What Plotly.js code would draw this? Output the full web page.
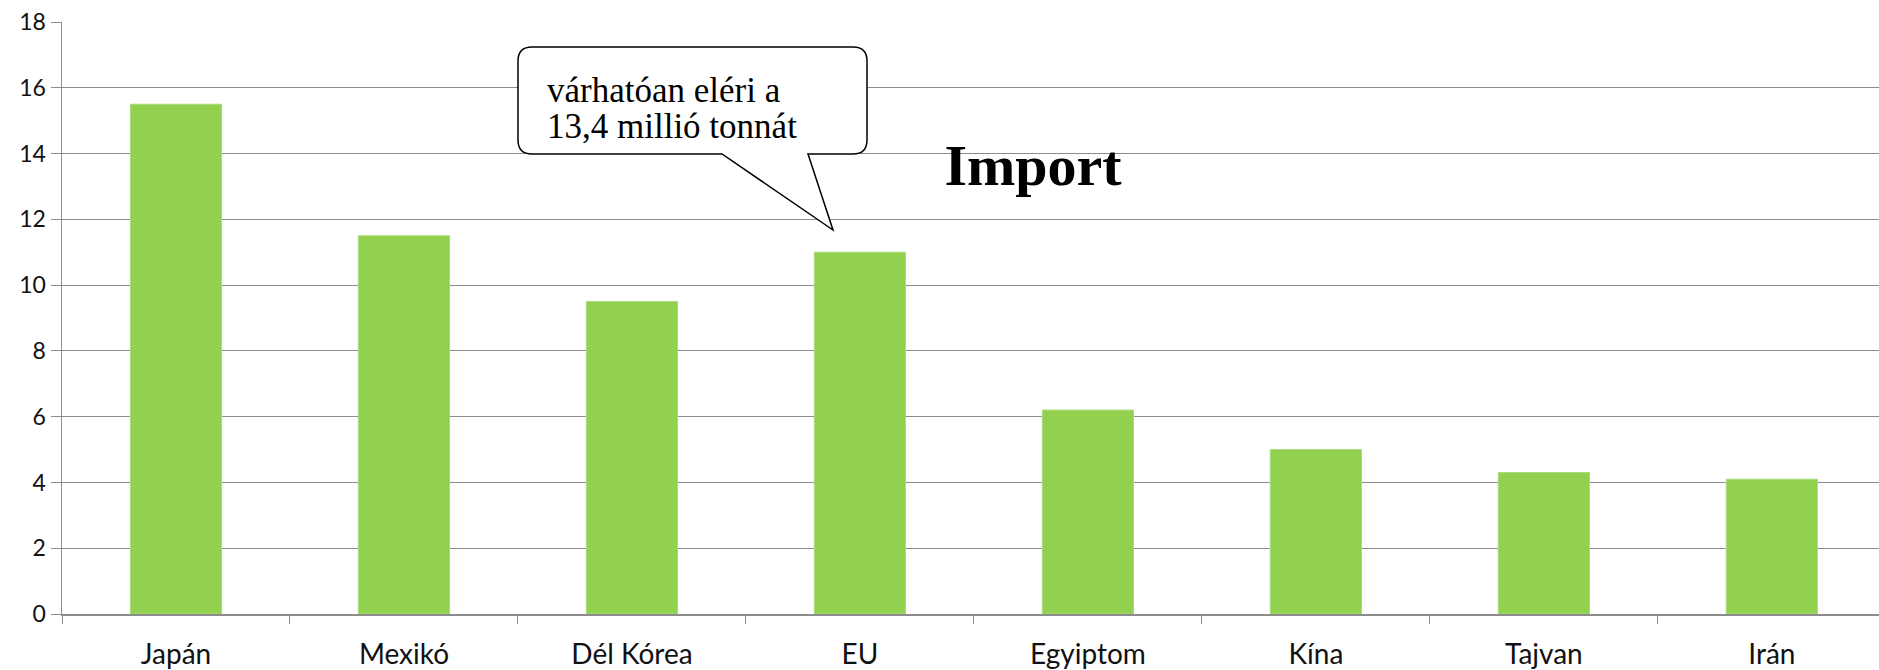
<!DOCTYPE html>
<html>
<head>
<meta charset="utf-8">
<script src="https://cdn.plot.ly/plotly-3.0.1.min.js"></script>
<style>html,body{margin:0;padding:0;background:#fff;}#chart{width:1879px;height:670px;}</style>
</head>
<body>
<div id="chart"></div>
<script>
var countries = ["Japán", "Mexikó", "Dél Kórea", "EU", "Egyiptom", "Kína", "Tajvan", "Irán"];
var importValues = [15.5, 11.5, 9.5, 11.0, 6.2, 5.0, 4.3, 4.1];
var yTicks = [0, 2, 4, 6, 8, 10, 12, 14, 16, 18];
var chartTitle = "Import";
var calloutLines = ["várhatóan eléri a", "13,4 millió tonnát"];

var W = 1879, H = 670;
var M = {l: 62, r: 0, t: 22, b: 56};
var pw = W - M.l - M.r, ph = H - M.t - M.b;
function px(X) { return (X - M.l) / pw; }
function py(Y) { return (H - M.b - Y) / ph; }

// callout bubble outline (pixel layout -> paper coords)
var L = 518, R = 867, T = 47, B = 154, r = 14;
var pts = function (x, y) { return px(x).toFixed(5) + "," + py(y).toFixed(5); };
var path = "M" + pts(L + r, T) +
  " L" + pts(R - r, T) + " Q" + pts(R, T) + " " + pts(R, T + r) +
  " L" + pts(R, B - r) + " Q" + pts(R, B) + " " + pts(R - r, B) +
  " L" + pts(808, B) + " L" + pts(833, 230) + " L" + pts(722, B) +
  " L" + pts(L + r, B) + " Q" + pts(L, B) + " " + pts(L, B - r) +
  " L" + pts(L, T + r) + " Q" + pts(L, T) + " " + pts(L + r, T) + " Z";

var trace = {
  type: "bar",
  x: countries,
  y: importValues,
  marker: {color: "#92D050", line: {color: "#A9DC78", width: 1}},
  hoverinfo: "x+y"
};

var calloutFont = {family: "Liberation Serif, Times New Roman, serif", size: 35, color: "#000"};

var layout = {
  width: W, height: H,
  margin: M,
  paper_bgcolor: "#ffffff",
  plot_bgcolor: "#ffffff",
  showlegend: false,
  bargap: 0.6,
  title: {
    text: "<b>" + chartTitle + "</b>",
    font: {family: "Liberation Serif, Times New Roman, serif", size: 58, color: "#000"},
    x: 1033 / W, xanchor: "center", xref: "container",
    y: 1 - 165 / H, yanchor: "middle", yref: "container"
  },
  xaxis: {
    type: "category",
    range: [-0.5, 7.47],
    showgrid: false,
    showline: true, linecolor: "#8c8c8c", linewidth: 1.5,
    ticks: "outside", tickson: "boundaries", ticklen: 8, tickcolor: "#8c8c8c", tickwidth: 1,
    tickfont: {family: "Lato, Calibri, sans-serif", size: 28, color: "#111"},
    ticklabelstandoff: 15,
    zeroline: false,
    fixedrange: true
  },
  yaxis: {
    range: [0, 18],
    tickvals: yTicks,
    ticktext: yTicks.map(String),
    showgrid: true, gridcolor: "#8c8c8c", gridwidth: 1,
    showline: true, linecolor: "#8c8c8c", linewidth: 1.5,
    ticks: "outside", ticklen: 10, tickcolor: "#8c8c8c", tickwidth: 1,
    tickfont: {family: "Lato, Calibri, sans-serif", size: 23, color: "#111"},
    zeroline: false,
    fixedrange: true
  },
  shapes: [{
    type: "path", xref: "paper", yref: "paper", path: path,
    fillcolor: "#ffffff", line: {color: "#000", width: 1.5}, layer: "above"
  }],
  annotations: [
    {text: calloutLines[0], xref: "paper", yref: "paper", x: px(545), y: py(90),
     xanchor: "left", yanchor: "middle", showarrow: false, height: 34, valign: "middle",
     font: calloutFont},
    {text: calloutLines[1], xref: "paper", yref: "paper", x: px(545), y: py(126),
     xanchor: "left", yanchor: "middle", showarrow: false, height: 34, valign: "middle",
     font: calloutFont}
  ]
};

Plotly.newPlot("chart", [trace], layout, {staticPlot: true, displayModeBar: false});
</script>
</body>
</html>
